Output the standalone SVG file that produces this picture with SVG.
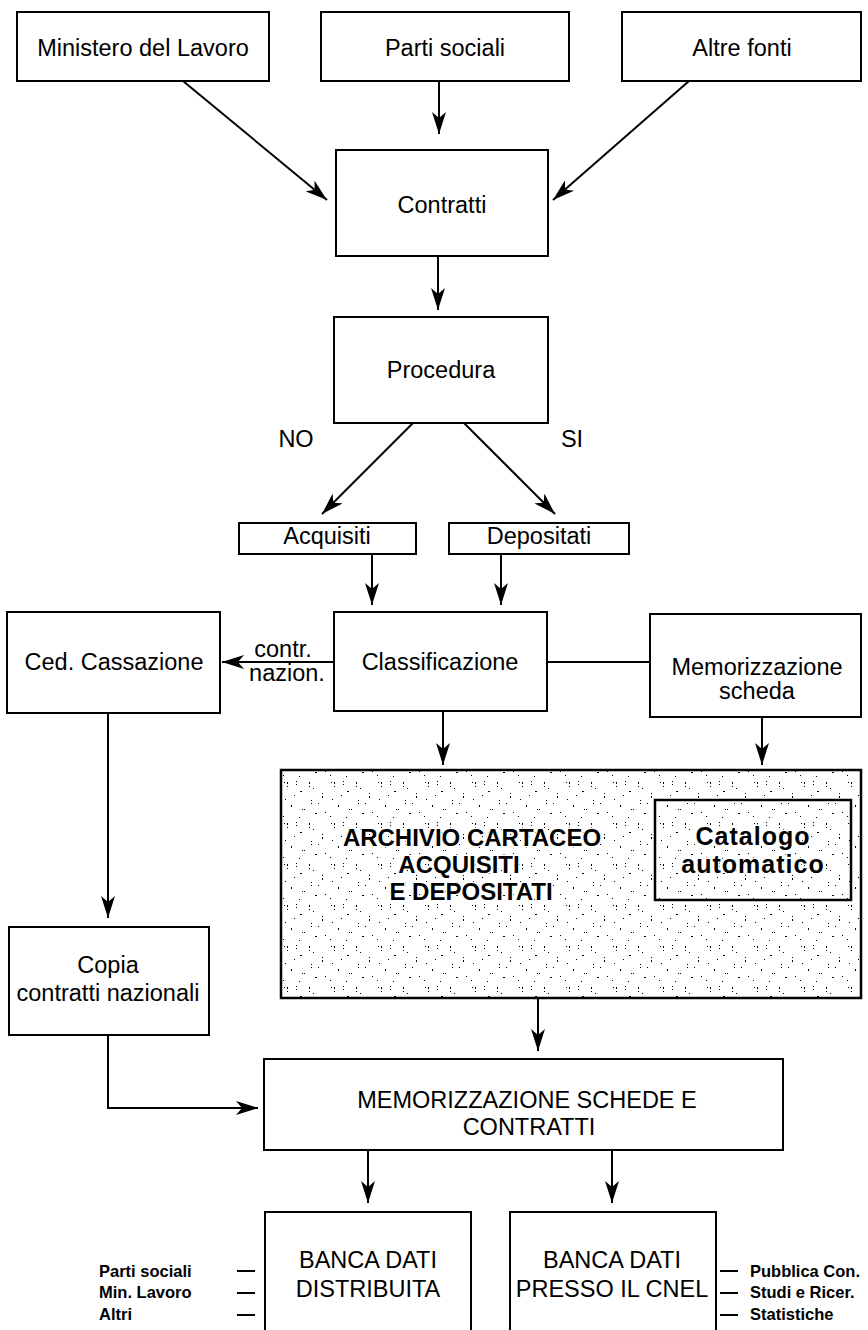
<svg xmlns="http://www.w3.org/2000/svg" width="868" height="1330" viewBox="0 0 868 1330">
<style>
.box{fill:#fff;stroke:#000;stroke-width:2}
.t{font-family:"Liberation Sans",Arial,sans-serif;font-size:23.5px;fill:#000;text-anchor:middle}
.b{font-family:"Liberation Sans",Arial,sans-serif;font-weight:bold;font-size:24px;fill:#000;text-anchor:middle;stroke:#fff;stroke-width:3;paint-order:stroke}
.s{font-family:"Liberation Sans",Arial,sans-serif;font-weight:bold;font-size:16.5px;fill:#000}
.c{fill:none;stroke:#000;stroke-width:2}
.a{marker-end:url(#ah)}
</style>
<defs>
<marker id="ah" viewBox="0 0 22 14" refX="22" refY="7" markerWidth="22" markerHeight="14" orient="auto" markerUnits="userSpaceOnUse"><path d="M0,0 L22,7 L0,14 L6,7 Z" fill="#000"/></marker>
<pattern id="dots" width="47" height="41" patternUnits="userSpaceOnUse">
<rect width="47" height="41" fill="#fff"/>
<g fill="#000">
<rect x="2" y="3" width="1" height="1"/><rect x="5" y="3" width="1" height="2"/><rect x="5" y="7" width="1" height="1"/><rect x="14" y="2" width="1" height="1"/><rect x="14" y="5" width="1" height="1"/><rect x="18" y="12" width="2" height="1"/><rect x="27" y="3" width="1" height="2"/><rect x="27" y="7" width="1" height="1"/><rect x="31" y="9" width="1" height="1"/><rect x="40" y="14" width="1" height="1"/><rect x="40" y="17" width="1" height="2"/><rect x="3" y="20" width="1" height="1"/><rect x="9" y="26" width="1" height="2"/><rect x="20" y="30" width="1" height="1"/><rect x="22" y="30" width="1" height="1"/><rect x="33" y="34" width="2" height="1"/><rect x="36" y="24" width="1" height="1"/><rect x="43" y="33" width="1" height="1"/><rect x="1" y="37" width="1" height="1"/><rect x="12" y="16" width="1" height="1"/><rect x="29" y="21" width="1" height="1"/><rect x="29" y="24" width="1" height="1"/><rect x="17" y="38" width="1" height="1"/>
</g>
</pattern>
</defs>

<g id="connectors">
<line class="c a" x1="183" y1="81" x2="327" y2="200"/>
<line class="c a" x1="439" y1="81" x2="439" y2="134"/>
<line class="c a" x1="689" y1="81" x2="553" y2="200"/>
<line class="c a" x1="438" y1="256" x2="438" y2="310"/>
<line class="c a" x1="413" y1="423" x2="322" y2="514"/>
<line class="c a" x1="464" y1="423" x2="555" y2="514"/>
<line class="c a" x1="372" y1="554" x2="372" y2="605"/>
<line class="c a" x1="501" y1="554" x2="501" y2="605"/>
<line class="c a" x1="334" y1="662" x2="222" y2="662"/>
<line class="c" x1="547" y1="662" x2="650" y2="662"/>
<line class="c a" x1="443" y1="711" x2="443" y2="765"/>
<line class="c a" x1="762" y1="717" x2="762" y2="765"/>
<line class="c a" x1="108" y1="713" x2="108" y2="918"/>
<polyline class="c a" points="108,1035 108,1108 258,1108"/>
<line class="c a" x1="538" y1="998" x2="538" y2="1051"/>
<line class="c a" x1="368" y1="1150" x2="368" y2="1203"/>
<line class="c a" x1="612" y1="1150" x2="612" y2="1203"/>
<line class="c" x1="237" y1="1271" x2="255" y2="1271"/>
<line class="c" x1="237" y1="1293" x2="255" y2="1293"/>
<line class="c" x1="237" y1="1315" x2="255" y2="1315"/>
<line class="c" x1="720" y1="1271" x2="738" y2="1271"/>
<line class="c" x1="720" y1="1293" x2="738" y2="1293"/>
<line class="c" x1="720" y1="1315" x2="738" y2="1315"/>
</g>

<g id="ministero"><rect class="box" x="17" y="12" width="252" height="69"/><text class="t" x="143" y="56">Ministero del Lavoro</text></g>
<g id="parti"><rect class="box" x="321" y="12" width="248" height="69"/><text class="t" x="445" y="56">Parti sociali</text></g>
<g id="altre"><rect class="box" x="622" y="12" width="239" height="69"/><text class="t" x="742" y="56">Altre fonti</text></g>
<g id="contratti"><rect class="box" x="336" y="150" width="212" height="106"/><text class="t" x="442" y="213">Contratti</text></g>
<g id="procedura"><rect class="box" x="334" y="317" width="214" height="106"/><text class="t" x="441" y="378">Procedura</text></g>
<g id="label-no"><text class="t" x="296" y="447">NO</text></g>
<g id="label-si"><text class="t" x="572" y="447">SI</text></g>
<g id="acquisiti"><rect class="box" x="239" y="523" width="177" height="31"/><text class="t" x="327" y="544">Acquisiti</text></g>
<g id="depositati"><rect class="box" x="449" y="523" width="180" height="31"/><text class="t" x="539" y="544">Depositati</text></g>
<g id="ced"><rect class="box" x="7" y="612" width="213" height="101"/><text class="t" x="114" y="670">Ced. Cassazione</text></g>
<g id="label-contr"><text class="t" x="283" y="657">contr.</text><text class="t" x="287" y="681">nazion.</text></g>
<g id="classificazione"><rect class="box" x="334" y="612" width="213" height="99"/><text class="t" x="440" y="670">Classificazione</text></g>
<g id="memorizzazione"><rect class="box" x="650" y="614" width="211" height="103"/><text class="t" x="757" y="675">Memorizzazione</text><text class="t" x="757" y="699">scheda</text></g>
<g id="archivio"><rect x="281" y="770" width="580" height="228" fill="url(#dots)" stroke="#000" stroke-width="2.5"/>
<text class="b" x="472" y="846">ARCHIVIO CARTACEO</text><text class="b" x="459" y="873">ACQUISITI</text><text class="b" x="471" y="900">E DEPOSITATI</text></g>
<g id="catalogo"><rect x="655" y="800" width="196" height="100" fill="none" stroke="#000" stroke-width="2.5"/><text class="b" x="753" y="845" style="font-size:25px;letter-spacing:1px">Catalogo</text><text class="b" x="753" y="873" style="font-size:25px;letter-spacing:1px">automatico</text></g>
<g id="copia"><rect class="box" x="9" y="927" width="200" height="108"/><text class="t" x="108" y="973">Copia</text><text class="t" x="108" y="1001">contratti nazionali</text></g>
<g id="memo"><rect class="box" x="264" y="1059" width="519" height="91"/><text class="t" x="527" y="1108">MEMORIZZAZIONE SCHEDE E</text><text class="t" x="529" y="1135">CONTRATTI</text></g>
<g id="banca1"><path class="box" d="M265,1335 V1212 H471 V1335"/><text class="t" x="368" y="1268">BANCA DATI</text><text class="t" x="368" y="1297">DISTRIBUITA</text></g>
<g id="banca2"><path class="box" d="M510,1335 V1212 H716 V1335"/><text class="t" x="612" y="1268">BANCA DATI</text><text class="t" x="612" y="1297">PRESSO IL CNEL</text></g>
<g id="labels-left"><text class="s" x="99" y="1277">Parti sociali</text><text class="s" x="99" y="1298">Min. Lavoro</text><text class="s" x="99" y="1320">Altri</text></g>
<g id="labels-right"><text class="s" x="750" y="1277">Pubblica Con.</text><text class="s" x="750" y="1298">Studi e Ricer.</text><text class="s" x="750" y="1320">Statistiche</text></g>
</svg>
